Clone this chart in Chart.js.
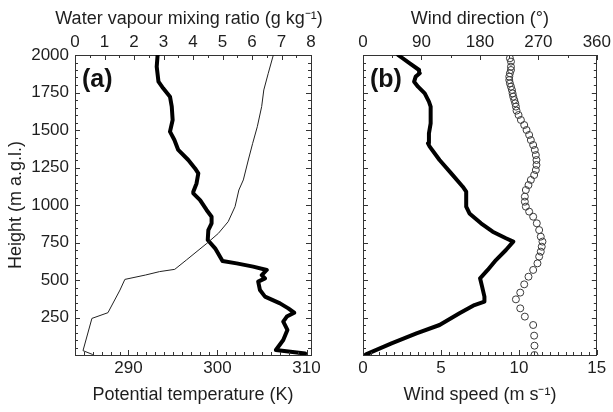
<!DOCTYPE html>
<html><head><meta charset="utf-8">
<script src="https://cdn.jsdelivr.net/npm/chart.js@4.4.1/dist/chart.umd.min.js"></script>
<style>
html,body{margin:0;padding:0;background:#fff;width:613px;height:412px;overflow:hidden}
canvas{position:absolute;top:0}
#ca{left:0}
#cb{left:330px}
</style></head><body>
<canvas id="ca" width="330" height="412"></canvas>
<canvas id="cb" width="283" height="412"></canvas>
<script>
// ---------- DATA ----------
// Panel (a): water vapour mixing ratio (g/kg, top axis) - thick line
const wvHeights = [10, 33, 100, 167, 222, 256, 282, 311, 344, 389, 433, 489, 511, 533, 567, 589, 611, 627, 711, 767, 833, 878, 922, 967, 1033, 1078, 1089, 1144, 1211, 1244, 1300, 1367, 1433, 1489, 1567, 1656, 1722, 1778, 1822, 1922, 2000];
const waterVapour = [7.80, 6.81, 7.06, 7.20, 7.06, 7.18, 7.43, 7.23, 6.95, 6.44, 6.27, 6.21, 6.44, 6.33, 6.50, 6.04, 5.48, 5.00, 4.75, 4.50, 4.52, 4.63, 4.63, 4.46, 4.24, 4.01, 4.01, 4.12, 4.18, 4.07, 3.84, 3.50, 3.37, 3.22, 3.31, 3.28, 3.22, 2.99, 2.83, 2.77, 2.80];
// Panel (a): potential temperature (K, bottom axis) - thin line
const thetaHeights = [3, 29, 244, 282, 433, 504, 533, 556, 571, 633, 744, 811, 889, 989, 1100, 1167, 1300, 1411, 1522, 1656, 1767, 1878, 2000];
const potentialTemp = [286.0, 284.9, 285.9, 287.7, 289.05, 289.6, 291.9, 293.5, 295.2, 296.5, 298.8, 300.1, 301.2, 301.97, 302.4, 302.9, 303.46, 303.95, 304.47, 304.96, 305.2, 305.7, 306.27];
// Panel (b): wind speed (m/s, bottom axis) - thick line
const speedHeights = [4, 78, 144, 200, 278, 333, 356, 389, 456, 511, 567, 633, 700, 756, 778, 822, 878, 944, 989, 1033, 1089, 1122, 1211, 1300, 1389, 1411, 1478, 1544, 1656, 1689, 1744, 1789, 1822, 1856, 1878, 1900, 1944, 2000];
const windSpeed = [0.19, 1.83, 3.43, 4.91, 6.19, 7.15, 7.79, 7.79, 7.64, 7.51, 8.00, 8.53, 9.17, 9.64, 9.17, 8.32, 7.57, 6.83, 6.62, 6.62, 6.62, 6.40, 5.66, 4.91, 4.28, 4.17, 4.23, 4.34, 4.34, 4.23, 3.96, 3.53, 3.28, 3.38, 3.64, 3.60, 3.00, 2.25];
// Panel (b): wind direction (deg, top axis) - open circles
const dirHeights = [0, 62, 129, 200, 256, 311, 371, 416, 471, 522, 567, 611, 656, 689, 722, 756, 789, 833, 878, 922, 956, 989, 1022, 1056, 1100, 1133, 1167, 1200, 1233, 1267, 1300, 1333, 1367, 1400, 1433, 1467, 1500, 1533, 1567, 1600, 1629, 1656, 1678, 1700, 1722, 1744, 1767, 1789, 1811, 1833, 1856, 1878, 1900, 1922, 1956, 1978];
const windDir = [264, 264, 263.5, 262, 249.2, 242.1, 235.4, 242.1, 248.2, 254.8, 262.0, 268.6, 271.2, 273.7, 275.2, 276.3, 273.7, 271.2, 267.6, 262.0, 255.8, 250.7, 249.2, 249.2, 250.7, 254.8, 258.4, 263.5, 266.1, 267.1, 267.1, 266.1, 264.5, 262.0, 258.4, 255.8, 251.8, 248.2, 243.1, 239.5, 236.4, 235.4, 234.4, 232.9, 231.3, 230.3, 229.3, 227.8, 226.2, 225.2, 225.2, 226.2, 227.8, 227.8, 227.8, 226.2];
// Tick labels
const heightTicks = [250, 500, 750, 1000, 1250, 1500, 1750, 2000];
const wvTicks = [0, 1, 2, 3, 4, 5, 6, 7, 8];
const thetaTicks = [290, 300, 310];
const dirTicks = [0, 90, 180, 270, 360];
const speedTicks = [0, 5, 10, 15];

// ---------- STYLE HELPERS ----------
const FONT = "'Liberation Sans', Arial, sans-serif";
const TXT = '#1e1e1e';
const AXC = '#333';
const tickFont = {family: FONT, size: 17};
const titleFont = {family: FONT, size: 18};
function fixSize(size) { return s => { if (s.isHorizontal()) s.height = size; else s.width = size; }; }
function setTicks(arr) { return s => { s.ticks = arr.map(v => ({value: v})); }; }
function pts(xs, ys) { return xs.map((x, i) => ({x: x, y: ys[i]})); }

const inwardTicks = {
  id: 'inwardTicks',
  afterDatasetsDraw(chart, args, opts) {
    const ctx = chart.ctx, a = chart.chartArea;
    ctx.save();
    ctx.strokeStyle = AXC; ctx.lineWidth = 1;
    for (const sp of opts.specs) {
      const s = chart.scales[sp.id];
      const start = Math.ceil(s.min / sp.minor - 1e-9);
      const end = Math.floor(s.max / sp.minor + 1e-9);
      for (let k = start; k <= end; k++) {
        const v = k * sp.minor;
        const r = v / sp.major;
        const len = Math.abs(r - Math.round(r)) < 1e-6 ? 5 : 3;
        const p = Math.round(s.getPixelForValue(v)) + 0.5;
        ctx.beginPath();
        if (s.position === 'top') { ctx.moveTo(p, a.top); ctx.lineTo(p, a.top + len); }
        else if (s.position === 'bottom') { ctx.moveTo(p, a.bottom); ctx.lineTo(p, a.bottom - len); }
        else if (s.position === 'left') { ctx.moveTo(a.left, p); ctx.lineTo(a.left + len, p); }
        else { ctx.moveTo(a.right, p); ctx.lineTo(a.right - len, p); }
        ctx.stroke();
      }
    }
    ctx.restore();
  }
};
const panelLabel = {
  id: 'panelLabel',
  afterDraw(chart, args, opts) {
    const ctx = chart.ctx, a = chart.chartArea;
    ctx.save();
    ctx.font = 'bold 25px ' + FONT;
    ctx.fillStyle = '#111';
    ctx.textBaseline = 'middle';
    ctx.textAlign = 'left';
    ctx.fillText(opts.text, a.left + 7, a.top + 25);
    if (opts.topTitle) {
      // wide top-axis title (wider than the plot, so drawn without Chart.js's width squeeze)
      ctx.font = '18px ' + FONT;
      ctx.fillStyle = TXT;
      ctx.textAlign = 'center';
      ctx.fillText(opts.topTitle, (a.left + a.right) / 2 - 4, 19);
    }
    ctx.restore();
  }
};

function axis(pos, min, max, size, ticks, showLabels, padding, title, titlePad) {
  return {
    type: 'linear', position: pos, min: min, max: max,
    afterFit: fixSize(size),
    afterBuildTicks: setTicks(ticks),
    grid: {display: false, drawTicks: false, tickLength: 0, drawOnChartArea: false},
    border: {display: true, color: AXC, width: 1},
    ticks: {display: showLabels, font: tickFont, color: TXT, padding: padding, maxRotation: 0, autoSkip: false,
            callback: v => String(v)},
    title: title ? {display: true, text: title, font: titleFont, color: TXT, padding: titlePad} : {display: false}
  };
}

const common = {
  responsive: false, animation: false, devicePixelRatio: 1,
  layout: {padding: 0},
  events: []
};

// ---------- PANEL (a) ----------
new Chart(document.getElementById('ca'), {
  type: 'scatter',
  data: { datasets: [
    { label: 'Potential temperature', data: pts(potentialTemp, thetaHeights), xAxisID: 'xB', yAxisID: 'y',
      showLine: true, borderColor: '#222', borderWidth: 1, pointRadius: 0, tension: 0 },
    { label: 'Water vapour mixing ratio', data: pts(waterVapour, wvHeights), xAxisID: 'xT', yAxisID: 'y',
      showLine: true, borderColor: '#000', borderWidth: 4, pointRadius: 0, tension: 0,
      borderJoinStyle: 'round', borderCapStyle: 'round' }
  ]},
  options: Object.assign({}, common, {
    plugins: { legend: {display: false}, tooltip: {enabled: false},
      panelLabel: {text: '(a)', topTitle: 'Water vapour mixing ratio (g kg\u207B\u00B9)'},
      inwardTicks: {specs: [
        {id: 'y', major: 250, minor: 50}, {id: 'yR', major: 250, minor: 50},
        {id: 'xT', major: 1, minor: 0.5}, {id: 'xB', major: 10, minor: 1}
      ]}
    },
    scales: {
      y: axis('left', 0, 2000, 75, heightTicks, true, 6, 'Height (m a.g.l.)', {top: 5.5, bottom: 0}),
      yR: axis('right', 0, 2000, 19, heightTicks, false, 0, null),
      xB: axis('bottom', 284, 310.5, 57, thetaTicks, true, 3, 'Potential temperature (K)', {top: 0, bottom: 6}),
      xT: axis('top', 0, 8, 55, wvTicks, true, 2, null)
    }
  }),
  plugins: [inwardTicks, panelLabel]
});

// ---------- PANEL (b) ----------
new Chart(document.getElementById('cb'), {
  type: 'scatter',
  data: { datasets: [
    { label: 'Wind direction', data: pts(windDir, dirHeights), xAxisID: 'xT', yAxisID: 'y',
      showLine: false, pointRadius: 3.5, pointBorderWidth: 1, pointBorderColor: '#3a3a3a',
      pointBackgroundColor: 'rgba(255,255,255,0)', pointStyle: 'circle' },
    { label: 'Wind speed', data: pts(windSpeed, speedHeights), xAxisID: 'xB', yAxisID: 'y',
      showLine: true, borderColor: '#000', borderWidth: 4, pointRadius: 0, tension: 0,
      borderJoinStyle: 'round', borderCapStyle: 'round' }
  ]},
  options: Object.assign({}, common, {
    plugins: { legend: {display: false}, tooltip: {enabled: false},
      panelLabel: {text: '(b)'},
      inwardTicks: {specs: [
        {id: 'y', major: 250, minor: 50}, {id: 'yR', major: 250, minor: 50},
        {id: 'xT', major: 90, minor: 45}, {id: 'xB', major: 5, minor: 0.5}
      ]}
    },
    scales: {
      y: axis('left', 0, 2000, 33, heightTicks, false, 0, null),
      yR: axis('right', 0, 2000, 15, heightTicks, false, 0, null),
      xB: axis('bottom', 0, 15, 57, speedTicks, true, 3, 'Wind speed (m s\u207B\u00B9)', {top: 0, bottom: 6}),
      xT: axis('top', 0, 360, 55, dirTicks, true, 2, 'Wind direction (\u00B0)', {top: 8, bottom: 0})
    }
  }),
  plugins: [inwardTicks, panelLabel]
});
</script>
</body></html>
